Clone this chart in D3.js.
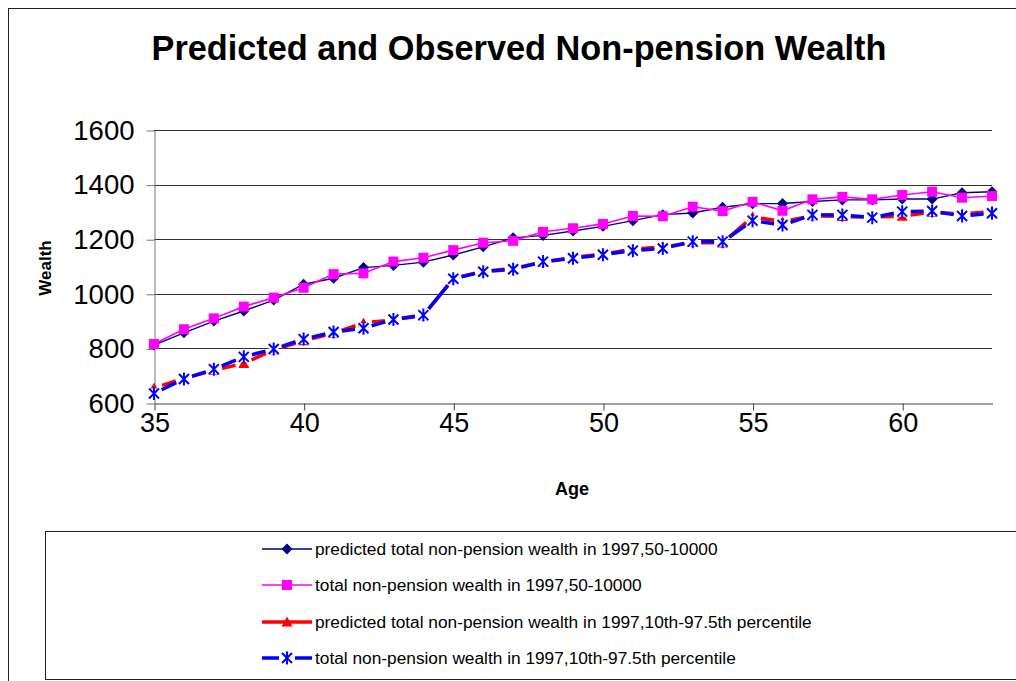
<!DOCTYPE html>
<html>
<head>
<meta charset="utf-8">
<script src="https://cdn.jsdelivr.net/npm/d3@7"></script>
<style>
  body { margin: 0; background: #fff; }
  text { font-family: "Liberation Sans", Arial, sans-serif; }
</style>
</head>
<body>
<div id="chart"></div>
<script>
// ages on the x axis
var ages = d3.range(35, 64);
// predicted total non-pension wealth in 1997, 50-10000
var predAll = [812, 857, 900, 937, 977, 1035, 1057, 1096, 1104, 1116, 1142, 1172, 1205, 1214, 1230, 1247, 1268, 1290, 1296, 1317, 1330, 1331, 1338, 1344, 1344, 1347, 1347, 1370, 1374];
// observed total non-pension wealth in 1997, 50-10000
var obsAll = [816, 870, 910, 953, 986, 1022, 1072, 1075, 1118, 1132, 1160, 1187, 1194, 1227, 1240, 1256, 1285, 1284, 1319, 1303, 1337, 1304, 1346, 1355, 1346, 1362, 1374, 1352, 1358];
// predicted, 10th-97.5th percentile
var predPct = [655, 690, 720, 745, 795, 828, 856, 893, 905, 920, 1056, 1083, 1093, 1116, 1133, 1146, 1163, 1172, 1188, 1186, 1282, 1264, 1286, 1283, 1281, 1284, 1299, 1292, 1302];
// observed, 10th-97.5th percentile
var obsPct = [635, 688, 724, 769, 798, 834, 860, 874, 906, 922, 1055, 1081, 1090, 1118, 1130, 1143, 1158, 1166, 1191, 1191, 1268, 1252, 1289, 1289, 1279, 1301, 1303, 1285, 1295];

var seriesNames = [
  "predicted total non-pension wealth in 1997,50-10000",
  "total non-pension wealth in 1997,50-10000",
  "predicted total non-pension wealth in 1997,10th-97.5th percentile",
  "total non-pension wealth in 1997,10th-97.5th percentile"
];
var xTicks = [35, 40, 45, 50, 55, 60];
var yTicks = [600, 800, 1000, 1200, 1400, 1600];

var W = 1016, H = 681;
var svg = d3.select("#chart").append("svg")
    .attr("width", W)
    .attr("height", H);

svg.append("rect").attr("width", W).attr("height", H).attr("fill", "#fff");
// chart border (right and bottom run off the picture)
svg.append("rect")
    .attr("x", 8.5).attr("y", 8.5)
    .attr("width", 1100).attr("height", 800)
    .attr("fill", "none").attr("stroke", "#222").attr("stroke-width", 1);

var xScale = d3.scaleLinear().domain([35, 63]).range([154, 992]);
var yScale = d3.scaleLinear().domain([600, 1600]).range([403, 130]);

// title
svg.append("text")
    .attr("x", 519)
    .attr("y", 60)
    .style("text-anchor", "middle")
    .style("font-size", "34.3px")
    .style("font-weight", "bold")
    .text("Predicted and Observed Non-pension Wealth");

// gridlines
svg.append("g").selectAll("line")
    .data(yTicks.slice(1))
    .enter().append("line")
    .attr("x1", xScale(35)).attr("x2", xScale(63))
    .attr("y1", function(d) { return Math.round(yScale(d)) + 0.5; })
    .attr("y2", function(d) { return Math.round(yScale(d)) + 0.5; })
    .attr("stroke", "#333").attr("stroke-width", 1);

// Y axis
var yaxis = d3.axisLeft(yScale).tickValues(yTicks).tickSize(8).tickSizeOuter(0).tickPadding(12).tickFormat(d3.format("d"));
var gy = svg.append("g")
    .attr("transform", "translate(" + (xScale(35) + 0.5) + ",0.5)")
    .call(yaxis);
gy.select(".domain").attr("stroke", "#777");
gy.selectAll(".tick line").attr("stroke", "#777");
gy.selectAll("text").style("font-size", "27.5px").attr("fill", "#000")
    .style("font-family", "'Liberation Sans', Arial, sans-serif");

// X axis
var xaxis = d3.axisBottom(xScale).tickValues(xTicks).tickSize(7).tickSizeOuter(0).tickPadding(2);
var gx = svg.append("g")
    .attr("transform", "translate(0.5," + (yScale(600) + 0.5) + ")")
    .call(xaxis);
gx.select(".domain").attr("stroke", "#444");
gx.selectAll(".tick line").attr("stroke", "#444");
gx.selectAll("text").style("font-size", "27px").attr("fill", "#000")
    .style("font-family", "'Liberation Sans', Arial, sans-serif");

// axis titles
svg.append("text")
    .attr("transform", "translate(51,268) rotate(-90)")
    .style("text-anchor", "middle")
    .style("font-size", "17px")
    .style("font-weight", "bold")
    .text("Wealth");
svg.append("text")
    .attr("x", 572)
    .attr("y", 495)
    .style("text-anchor", "middle")
    .style("font-size", "18px")
    .style("font-weight", "bold")
    .text("Age");

// marker shapes
function drawMarker(g, kind) {
  if (kind == "diamond") {
    g.append("path").attr("d", "M0,-5.5L5.5,0L0,5.5L-5.5,0Z").attr("fill", "#000080");
  } else if (kind == "square") {
    g.append("rect").attr("x", -5).attr("y", -5).attr("width", 10).attr("height", 10).attr("fill", "#ff00ff");
  } else if (kind == "triangle") {
    g.append("path").attr("d", "M0,-5.5L5.5,4.5L-5.5,4.5Z").attr("fill", "#ff0000");
  } else if (kind == "star") {
    g.append("rect").attr("x", -5).attr("y", -5).attr("width", 10).attr("height", 10).attr("fill", "#fff");
    g.append("path").attr("d", "M-5,-5L5,5M5,-5L-5,5M0,-6.5L0,6.5")
        .attr("stroke", "#0000ff").attr("stroke-width", 2).attr("fill", "none");
  }
}

var series = [
  {values: predAll, color: "#000080", width: 1.4, marker: "diamond", gapped: false},
  {values: obsAll, color: "#ff00ff", width: 1.6, marker: "square", gapped: false},
  {values: predPct, color: "#ff0000", width: 3.5, marker: "triangle", gapped: true},
  {values: obsPct, color: "#0000ff", width: 3.5, marker: "star", gapped: true}
];

// draw order: thick series first, then the thin ones on top
[2, 3, 0, 1].forEach(function(si) {
  var s = series[si];
  var pts = ages.map(function(a, i) { return [xScale(a), yScale(s.values[i])]; });
  var g = svg.append("g");
  if (s.gapped) {
    var gap = 8.5;
    d3.pairs(pts).forEach(function(p) {
      var dx = p[1][0] - p[0][0], dy = p[1][1] - p[0][1];
      var len = Math.sqrt(dx * dx + dy * dy);
      if (len - 2 * gap < 2) return;
      var ux = dx / len, uy = dy / len;
      g.append("line")
          .attr("x1", p[0][0] + ux * gap).attr("y1", p[0][1] + uy * gap)
          .attr("x2", p[1][0] - ux * gap).attr("y2", p[1][1] - uy * gap)
          .attr("stroke", s.color).attr("stroke-width", s.width);
    });
  } else {
    g.append("path")
        .attr("d", d3.line()(pts))
        .attr("fill", "none")
        .attr("stroke", s.color)
        .attr("stroke-width", s.width);
  }
  pts.forEach(function(p) {
    var m = g.append("g").attr("transform", "translate(" + p[0] + "," + p[1] + ")");
    drawMarker(m, s.marker);
  });
});

// legend
var legend = svg.append("g");
legend.append("rect")
    .attr("x", 45.5).attr("y", 531.5)
    .attr("width", 1100).attr("height", 148)
    .attr("fill", "#fff").attr("stroke", "#222").attr("stroke-width", 1);
var rowY = [549, 585, 622, 658];
series.forEach(function(s, i) {
  var y = rowY[i];
  var row = legend.append("g");
  if (s.gapped && s.marker == "star") {
    row.append("line").attr("x1", 262).attr("x2", 279).attr("y1", y).attr("y2", y)
        .attr("stroke", s.color).attr("stroke-width", s.width);
    row.append("line").attr("x1", 295).attr("x2", 312).attr("y1", y).attr("y2", y)
        .attr("stroke", s.color).attr("stroke-width", s.width);
  } else {
    row.append("line").attr("x1", 262).attr("x2", 312).attr("y1", y).attr("y2", y)
        .attr("stroke", s.color).attr("stroke-width", s.width);
  }
  var m = row.append("g").attr("transform", "translate(287," + y + ")");
  drawMarker(m, s.marker);
  row.append("text")
      .attr("x", 315)
      .attr("y", y)
      .attr("dy", "0.35em")
      .style("font-size", "17.3px")
      .text(seriesNames[i]);
});
</script>
</body>
</html>
